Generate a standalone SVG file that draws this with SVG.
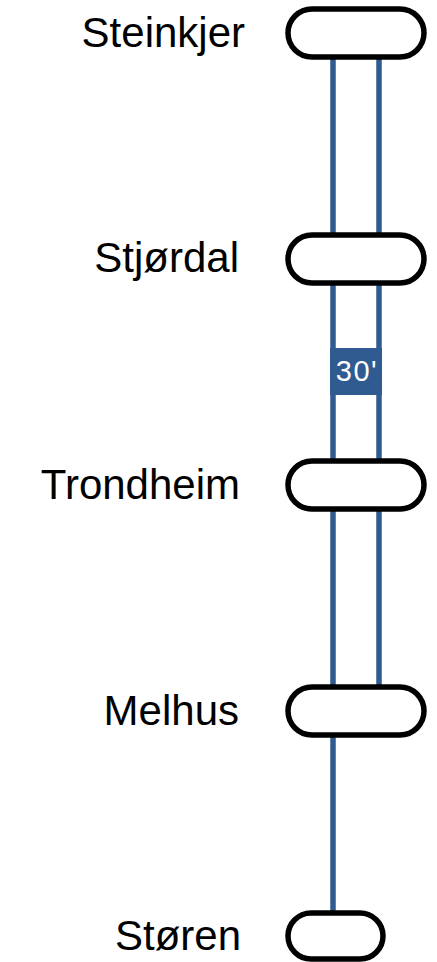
<svg xmlns="http://www.w3.org/2000/svg" width="437" height="962" viewBox="0 0 437 962">
<style>
.lbl{font-family:"Liberation Sans",Arial,sans-serif;font-size:42px;fill:#000;text-anchor:end}
.stn{fill:#fff;stroke:#000;stroke-width:5.5}
.trk{stroke:#2f5b91;stroke-width:5.5;fill:none}
.freq{font-family:"Liberation Sans",Arial,sans-serif;font-size:29px;fill:#fff;text-anchor:middle;letter-spacing:1.5px}
</style>
<rect width="437" height="962" fill="#fff"/>
<g id="connectors">
<line class="trk" x1="333" y1="33" x2="333" y2="937"/>
<line class="trk" x1="379" y1="33" x2="379" y2="711"/>
<g id="freq-label">
<rect x="330" y="348" width="52" height="47" fill="#2f5b91"/>
<text class="freq" x="357" y="381">30'</text>
</g>
</g>
<g id="steinkjer"><rect class="stn" x="288" y="9" width="136" height="48" rx="24"/><text class="lbl" x="245" y="47">Steinkjer</text></g>
<g id="stjordal"><rect class="stn" x="288" y="235" width="136" height="48" rx="24"/><text class="lbl" x="239" y="272">Stjørdal</text></g>
<g id="trondheim"><rect class="stn" x="288" y="461" width="136" height="48" rx="24"/><text class="lbl" x="240" y="499">Trondheim</text></g>
<g id="melhus"><rect class="stn" x="288" y="687" width="136" height="48" rx="24"/><text class="lbl" x="239" y="725">Melhus</text></g>
<g id="storen"><rect class="stn" x="288" y="913" width="95" height="46" rx="23"/><text class="lbl" x="241" y="950">Støren</text></g>
</svg>
